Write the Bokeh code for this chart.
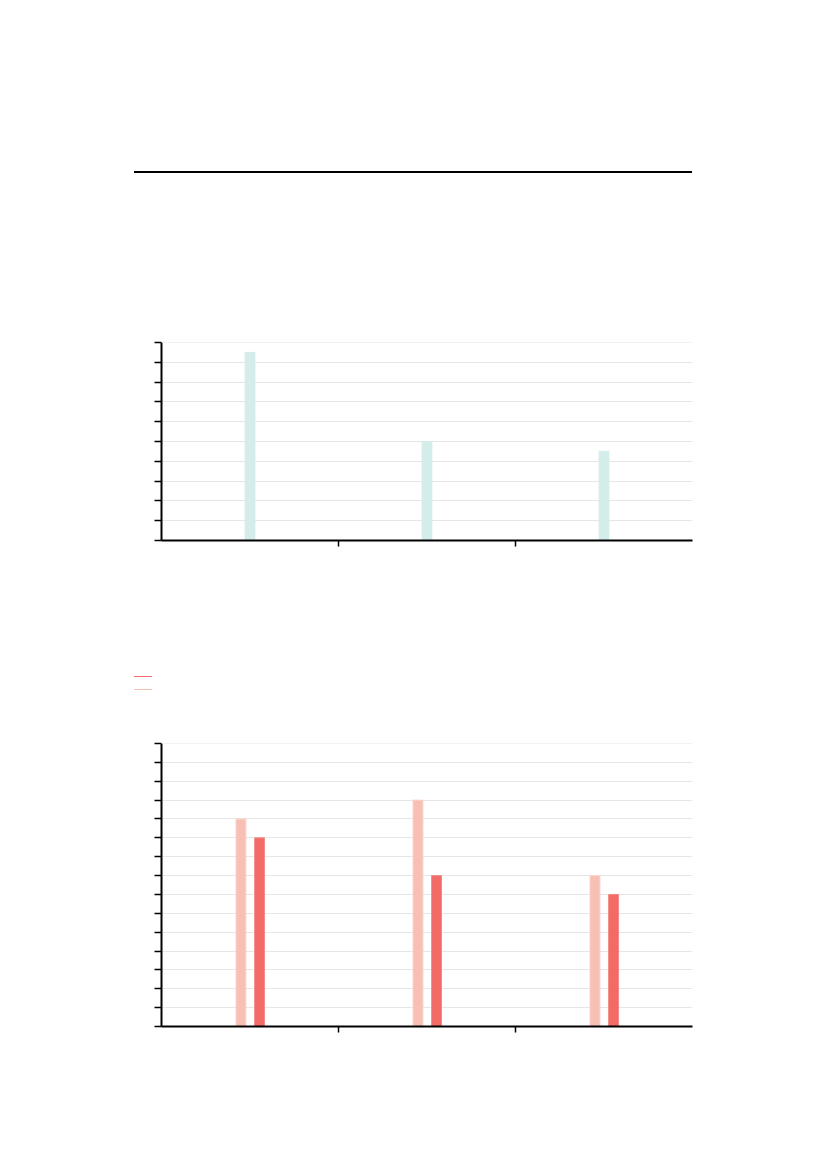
from bokeh.plotting import figure
from bokeh.models import (ColumnDataSource, FixedTicker, Range1d, CustomJSTickFormatter,
                          Div, Span)
from bokeh.layouts import column
from bokeh.transform import dodge
from bokeh.embed import file_html
from bokeh.resources import INLINE

# ---- data ----
groups = [0.5, 1.5, 2.5]            # group centres on a 0..3 numeric axis
chart1_values = [95, 50, 45]
chart2_light = [11, 12, 8]
chart2_dark = [10, 8, 7]
chart1_yticks = list(range(0, 101, 10))
chart2_yticks = list(range(0, 16, 1))
x_group_ticks = [1, 2]

TEAL = "#d4ecea"
LIGHT = "#f8c0b5"
DARK = "#f26b67"
GRID = "#e6e6e6"

blank = CustomJSTickFormatter(code="return ''")


def style(p, yticks):
    p.outline_line_color = None
    p.xgrid.grid_line_color = None
    p.ygrid.grid_line_color = GRID
    p.ygrid.grid_line_width = 1
    p.yaxis.ticker = FixedTicker(ticks=yticks)
    p.xaxis.ticker = FixedTicker(ticks=x_group_ticks)
    for ax in (p.xaxis[0], p.yaxis[0]):
        ax.axis_line_width = 2
        ax.axis_line_color = "black"
        ax.major_tick_in = 0
        ax.major_tick_line_width = 1.5
        ax.minor_tick_line_color = None
        ax.formatter = blank
        ax.major_label_text_font_size = "0px"
        ax.major_label_standoff = 0
    p.xaxis.major_tick_out = 6
    p.yaxis.major_tick_out = 7
    p.add_layout(Span(location=yticks[-1], dimension="width", line_color=GRID, line_width=1))


top = Div(text='<div style="margin-left:134px;margin-top:171px;width:558px;height:2px;background:#000"></div>',
          width=819, height=300, margin=(0, 0, 0, 0))

p1 = figure(frame_width=531, frame_height=198, min_border_left=161, min_border_right=127,
            min_border_top=42, min_border_bottom=60, x_range=Range1d(0, 3), y_range=Range1d(0, 100),
            output_backend="svg", toolbar_location=None)
s1 = ColumnDataSource(dict(x=groups, top=chart1_values))
p1.vbar(x="x", top="top", width=0.055, bottom=0, source=s1, fill_color=TEAL, line_color=TEAL)
style(p1, chart1_yticks)

legend_html = (
    f'<div style="margin-left:134px;margin-top:76px;width:18px;height:1px;background:{DARK}"></div>'
    f'<div style="margin-left:134px;margin-top:12px;width:18px;height:1px;background:{LIGHT}"></div>'
)
legend_div = Div(text=legend_html, width=819, height=100, margin=(0, 0, 0, 0))

p2 = figure(frame_width=531, frame_height=283, min_border_left=161, min_border_right=127,
            min_border_top=43, min_border_bottom=60, x_range=Range1d(0, 3), y_range=Range1d(0, 15),
            output_backend="svg", toolbar_location=None)
s2 = ColumnDataSource(dict(x=groups, light=chart2_light, dark=chart2_dark))
p2.vbar(x=dodge("x", -0.051), top="light", width=0.056, bottom=0, source=s2,
        fill_color=LIGHT, line_color="#fbd3cb")
p2.vbar(x=dodge("x", 0.054), top="dark", width=0.056, bottom=0, source=s2,
        fill_color=DARK, line_color="#f48a86")
style(p2, chart2_yticks)

layout = column(top, p1, legend_div, p2, spacing=0)
open("out.html", "w").write(file_html(layout, INLINE))
